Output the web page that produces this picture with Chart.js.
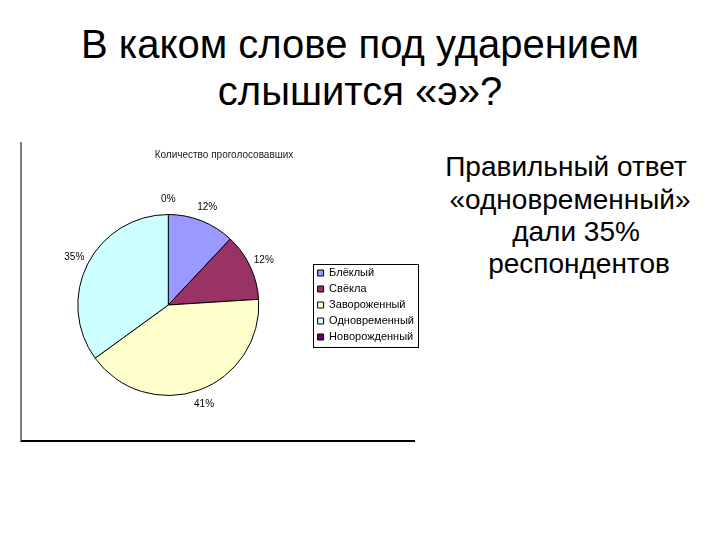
<!DOCTYPE html>
<html lang="ru">
<head>
<meta charset="utf-8">
<script src="https://cdn.jsdelivr.net/npm/chart.js@4/dist/chart.umd.min.js"></script>
<style>
  html, body { margin: 0; padding: 0; background: #fff; }
  body { width: 720px; height: 540px; position: relative; overflow: hidden; font-family: "Liberation Sans", Arial, sans-serif; color: #000; }
  .line { position: absolute; white-space: nowrap; line-height: 1; }
  .title { font-size: 40px; }
  .answer { font-size: 28px; }
  #frame { position: absolute; left: 20px; top: 142px; width: 393px; height: 298px; border-left: 2px solid #808080; border-bottom: 2px solid #000; }
  #frame canvas { position: absolute; left: 0; top: 0; }
</style>
</head>
<body>
<div class="line title" style="left:0;width:720px;text-align:center;top:24px">В каком слове под ударением</div>
<div class="line title" style="left:0;width:720px;text-align:center;top:71px">слышится «э»?</div>

<div class="line answer" style="left:366px;width:400px;text-align:center;top:153px">Правильный ответ</div>
<div class="line answer" style="left:370px;width:400px;text-align:center;top:186px">«одновременный»</div>
<div class="line answer" style="left:376px;width:400px;text-align:center;top:218px">дали 35%</div>
<div class="line answer" style="left:379px;width:400px;text-align:center;top:250px">респондентов</div>

<div id="frame"><canvas id="pie" width="402" height="298"></canvas></div>

<script>
  const chartTitle = 'Количество проголосовавших';
  const words = ['Блёклый', 'Свёкла', 'Завороженный', 'Одновременный', 'Новорожденный'];
  const percents = [12, 12, 41, 35, 0];
  const sliceColors = ['#9999FF', '#993366', '#FFFFCC', '#CCFFFF', '#660066'];

  // подписи процентов снаружи круга
  const outsideLabels = {
    id: 'outsideLabels',
    afterDatasetsDraw(chart) {
      const ctx = chart.ctx;
      const meta = chart.getDatasetMeta(0);
      ctx.save();
      ctx.font = '10px "Liberation Sans", Arial, sans-serif';
      ctx.fillStyle = '#000';
      ctx.textAlign = 'center';
      ctx.textBaseline = 'middle';
      meta.data.forEach((arc, i) => {
        const p = arc.getProps(['x', 'y', 'startAngle', 'endAngle', 'outerRadius'], true);
        const mid = (p.startAngle + p.endAngle) / 2;
        const r = p.outerRadius + 15;
        ctx.fillText(percents[i] + '%', p.x + Math.cos(mid) * r, p.y + Math.sin(mid) * r);
      });
      ctx.restore();
    }
  };

  // рамка вокруг легенды
  const legendFrame = {
    id: 'legendFrame',
    afterDraw(chart) {
      const boxes = chart.legend && chart.legend.legendHitBoxes;
      if (!boxes || !boxes.length) return;
      let l = Infinity, t = Infinity, r = -Infinity, b = -Infinity;
      boxes.forEach(h => {
        l = Math.min(l, h.left); t = Math.min(t, h.top);
        r = Math.max(r, h.left + h.width); b = Math.max(b, h.top + h.height);
      });
      const ctx = chart.ctx;
      ctx.save();
      ctx.strokeStyle = '#000';
      ctx.lineWidth = 1;
      ctx.strokeRect(Math.round(l - 5) + 0.5, Math.round(t - 4) + 0.5, Math.round(r - l + 9), Math.round(b - t + 8));
      ctx.restore();
    }
  };

  new Chart(document.getElementById('pie'), {
    type: 'pie',
    data: {
      labels: words,
      datasets: [{
        data: percents,
        backgroundColor: sliceColors,
        borderColor: '#000',
        borderWidth: 1,
      }],
    },
    options: {
      responsive: false,
      animation: false,
      layout: { padding: { left: 2, right: 0, top: 0, bottom: 44 } },
      plugins: {
        title: {
          display: true,
          text: chartTitle,
          color: '#222',
          font: { family: '"Liberation Sans", Arial, sans-serif', size: 10, weight: 'normal' },
          padding: { top: 7, bottom: 53 },
        },
        legend: {
          position: 'right',
          align: 'center',
          fullSize: false,
          labels: {
            color: '#000',
            boxWidth: 6,
            boxHeight: 6,
            padding: 5,
            font: { family: '"Liberation Sans", Arial, sans-serif', size: 11 },
            generateLabels(chart) {
              return words.map((w, i) => ({
                text: w,
                fillStyle: sliceColors[i],
                strokeStyle: '#000',
                lineWidth: 1,
                index: i,
                hidden: false,
              }));
            },
          },
        },
        tooltip: { enabled: false },
      },
    },
    plugins: [outsideLabels, legendFrame],
  });
</script>
</body>
</html>
